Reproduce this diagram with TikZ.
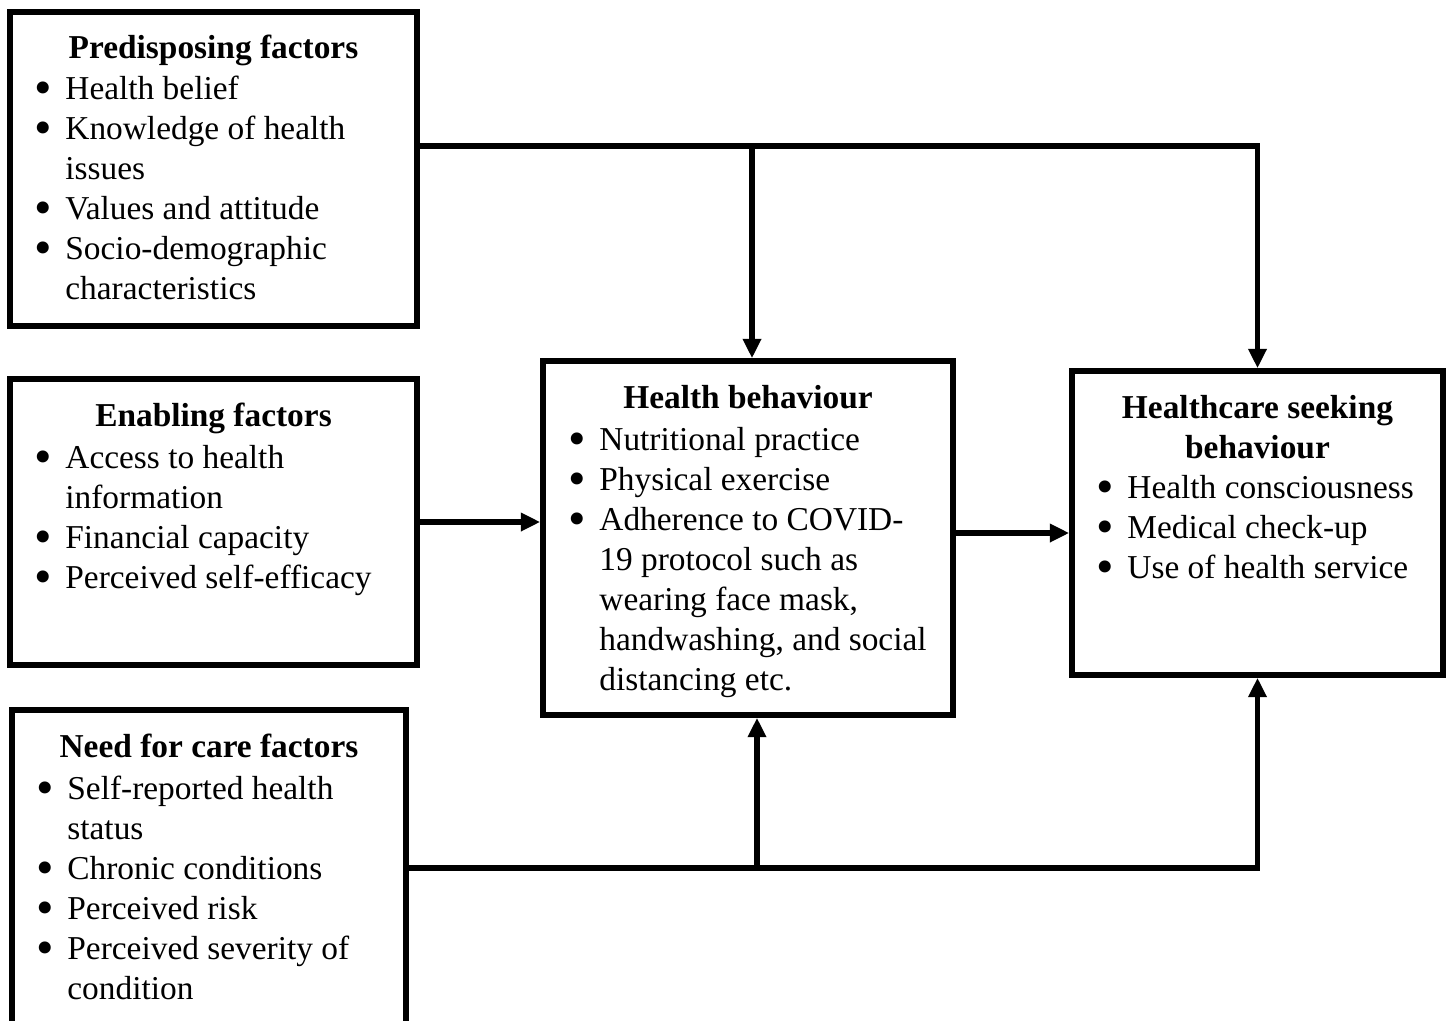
\documentclass[tikz,border=0pt]{standalone}
\usepackage{fontspec}
\setmainfont{Liberation Serif}
\usetikzlibrary{arrows.meta}
\newcommand\bmark{\smash{\raisebox{-3.2pt}{\scalebox{1.5}{\textbullet}}}}
\newcommand\bitem[1]{\makebox[15.4pt][l]{\hspace*{-2.2pt}\bmark}#1}
\newcommand\bcont[1]{\hspace*{15.4pt}#1}
\begin{document}
\begin{tikzpicture}[x=0.02cm,y=-0.02cm,
  box/.style={draw, line width=3.2pt, inner sep=0pt},
  ttl/.style={font=\fontsize{19}{22.76}\selectfont\bfseries, inner sep=0pt, anchor=base},
  lst/.style={font=\fontsize{19}{22.76}\selectfont, inner sep=0pt, align=left, anchor=north west},
  conn/.style={line width=3.2pt},
  arr/.style={line width=3.2pt, -{Triangle[length=11pt,width=10pt]}}]
\useasboundingbox (0,0) rectangle (1447,1021);
\fill[white] (0,0) rectangle (1447,1021);
\clip (0,0) rectangle (1447,1021);
% boxes
\node[box, minimum width=407*0.02cm, minimum height=314*0.02cm] (pre) at (213.5,169) {};
\node[box, minimum width=407*0.02cm, minimum height=286*0.02cm] (en) at (213.5,522) {};
\node[box, minimum width=394*0.02cm, minimum height=350*0.02cm] (need) at (209,885) {};
\node[box, minimum width=410*0.02cm, minimum height=354*0.02cm] (hb) at (748,538) {};
\node[box, minimum width=371*0.02cm, minimum height=304*0.02cm] (hc) at (1257.5,523) {};
% texts
\node[ttl] (preT) at (213.5,58) {Predisposing factors};
\node[lst] (preL) at (38,71) {\strut\bitem{Health belief}\\\bitem{Knowledge of health}\\\bcont{issues}\\\bitem{Values and attitude}\\\bitem{Socio-demographic}\\\bcont{characteristics}};
\node[ttl] (enT) at (213.5,426) {Enabling factors};
\node[lst] (enL) at (38,440) {\strut\bitem{Access to health}\\\bcont{information}\\\bitem{Financial capacity}\\\bitem{Perceived self-efficacy}};
\node[ttl] (needT) at (209,757) {Need for care factors};
\node[lst] (needL) at (40,771) {\strut\bitem{Self-reported health}\\\bcont{status}\\\bitem{Chronic conditions}\\\bitem{Perceived risk}\\\bitem{Perceived severity of}\\\bcont{condition}};
\node[ttl] (hbT) at (748,408) {Health behaviour};
\node[lst] (hbL) at (572,422) {\strut\bitem{Nutritional practice}\\\bitem{Physical exercise}\\\bitem{Adherence to COVID-}\\\bcont{19 protocol such as}\\\bcont{wearing face mask,}\\\bcont{handwashing, and social}\\\bcont{distancing etc.}};
\node[ttl, align=center, anchor=north] (hcT) at (1257.5,390) {\strut Healthcare seeking\\behaviour};
\node[lst] (hcL) at (1100,470) {\strut\bitem{Health consciousness}\\\bitem{Medical check-up}\\\bitem{Use of health service}};
% connectors
\coordinate (j1) at (752,146);
\coordinate (j2) at (1257.5,146);
\coordinate (m1) at (950,533);
\coordinate (k1) at (757,868);
\coordinate (k2) at (1257.5,868);
\draw[arr] (pre.east |- j1) -- (j2) -- (hc.north);
\draw[arr] (j1) -- (j1 |- hb.north);
\draw[arr] (en.east) -- (hb.west |- en.east);
\draw[arr] (hb.east |- m1) -- (hc.west |- m1);
\draw[arr] (need.east |- k1) -- (k2) -- (hc.south);
\draw[arr] (k1) -- (k1 |- hb.south);
\end{tikzpicture}
\end{document}
